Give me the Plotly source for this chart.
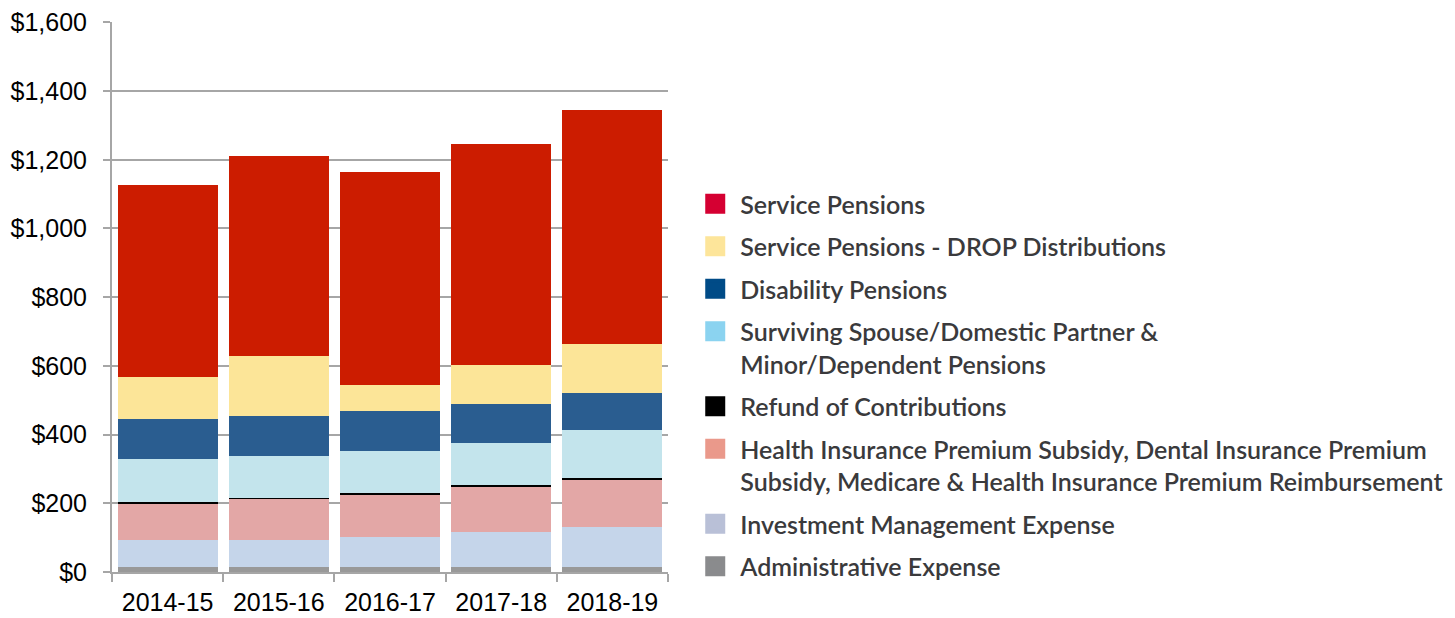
import plotly.graph_objects as go

years = ["2014-15", "2015-16", "2016-17", "2017-18", "2018-19"]

administrative = [16, 16, 16, 16, 16]
investment = [77, 77, 85, 100, 114]
health = [107, 121, 123, 131, 138]
refund = [5, 2, 7, 6, 7]
surviving = [125, 123, 121, 122, 138]
disability = [114, 114, 117, 115, 107]
drop = [123, 176, 74, 114, 145]
service = [559, 582, 620, 642, 679]

series_names = [
    "Administrative Expense",
    "Investment Management Expense",
    "Health Insurance Premium Subsidy, Dental Insurance Premium<br>Subsidy, Medicare & Health Insurance Premium Reimbursement",
    "Refund of Contributions",
    "Surviving Spouse/Domestic Partner &<br>Minor/Dependent Pensions",
    "Disability Pensions",
    "Service Pensions - DROP Distributions",
    "Service Pensions",
]
series_values = [administrative, investment, health, refund, surviving, disability, drop, service]
bar_colors = ["#999999", "#C5D5EA", "#E3A7A6", "#000000", "#C3E4EC", "#2A5D90", "#FCE598", "#CC1C00"]
legend_colors = ["#8A8B8D", "#B9C0D7", "#EA998B", "#000000", "#8BD3F0", "#004B87", "#FDE59A", "#D50032"]

y_ticks = [0, 200, 400, 600, 800, 1000, 1200, 1400, 1600]
y_labels = ["$0", "$200", "$400", "$600", "$800", "$1,000", "$1,200", "$1,400", "$1,600"]

fig = go.Figure()

for name, vals, col in zip(series_names, series_values, bar_colors):
    fig.add_trace(go.Bar(x=years, y=vals, name=name, marker=dict(color=col, line=dict(width=0)),
                         showlegend=False))

# legend entries (top to bottom)
for i, (name, col) in enumerate(zip(series_names[::-1], legend_colors[::-1])):
    fig.add_trace(go.Scatter(x=[None], y=[None], mode="markers", name=name,
                             legendgroup=f"g{i}",
                             marker=dict(symbol="square", size=16, color=col,
                                         line=dict(color=col, width=4))))

# page body has an 8px default margin, so the figure is slightly smaller
fig.update_layout(
    barmode="stack",
    bargap=0.1,
    width=1447,
    height=610,
    margin=dict(l=104, r=787, t=14, b=46, autoexpand=False),
    plot_bgcolor="white",
    paper_bgcolor="white",
    font=dict(family="Liberation Sans, Arial", size=25, color="#000000"),
    legend=dict(
        x=1.040, xanchor="left",
        y=0.34, yanchor="middle",
        font=dict(family="Lato", size=25, color="#3A3A3C", weight=600),
        tracegroupgap=7,
        valign="top",
        traceorder="grouped",
        itemwidth=40,
        itemclick=False,
        itemdoubleclick=False,
    ),
    xaxis=dict(
        type="category",
        automargin=False,
        showline=True, linecolor="#A6A6A6", linewidth=2,
        ticks="outside", tickson="boundaries", ticklen=8, tickcolor="#A6A6A6", tickwidth=2,
        ticklabelstandoff=7,
        showgrid=False,
        tickfont=dict(size=25, color="#000000"),
    ),
    yaxis=dict(
        automargin=False,
        range=[0, 1601],
        tickvals=y_ticks, ticktext=y_labels,
        ticklabeloverflow="allow",
        ticklabelstandoff=11,
        showline=True, linecolor="#A6A6A6", linewidth=2,
        ticks="outside", ticklen=7, tickcolor="#A6A6A6", tickwidth=2,
        showgrid=True, gridcolor="#A6A6A6", gridwidth=2,
        zeroline=False,
        tickfont=dict(size=25, color="#000000"),
    ),
)

fig.write_html("out.html")
